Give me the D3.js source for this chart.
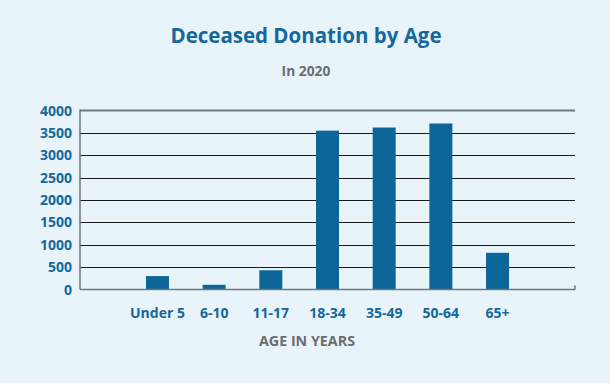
<!DOCTYPE html>
<html>
<head>
<meta charset="utf-8">
<script src="https://cdn.jsdelivr.net/npm/d3@7"></script>
<style>
  html, body { margin: 0; padding: 0; background: #e9f4fa; }
  svg { display: block; }
  text { font-family: "Open Sans", sans-serif; }
</style>
</head>
<body>
<div id="chart"></div>
<script>
const categories = ["Under 5", "6-10", "11-17", "18-34", "35-49", "50-64", "65+"];
const values = [300, 105, 430, 3550, 3620, 3710, 820];
const yTicks = [0, 500, 1000, 1500, 2000, 2500, 3000, 3500, 4000];
const title = "Deceased Donation by Age";
const subtitle = "In 2020";
const xTitle = "AGE IN YEARS";

(function () {
const W = 610, H = 383;
const mLeft = 80, mRight = 575, mTop = 110.5, mBottom = 289.5;
const blue = "#14689b", barColor = "#0d6699", gray = "#6b6e70";

const svg = d3.select("#chart").append("svg").attr("width", W).attr("height", H);
svg.append("rect").attr("width", W).attr("height", H).attr("fill", "#e9f4fa");

const x = d3.scaleBand().domain(categories).range([mLeft, mRight])
  .paddingInner(0.594).paddingOuter(1.164).align(0.5);
const y = d3.scaleLinear().domain([0, 4000]).range([mBottom, mTop]);

svg.append("text").attr("x", 306).attr("y", 43).attr("text-anchor", "middle")
  .attr("font-size", 20.5).attr("font-weight", 700).attr("fill", blue).text(title);
svg.append("text").attr("x", 306).attr("y", 76).attr("text-anchor", "middle")
  .attr("font-size", 13.8).attr("font-weight", 700).attr("fill", gray).text(subtitle);

svg.append("g").selectAll("line").data(yTicks.filter(d => d > 0 && d < 4000)).join("line")
  .attr("x1", mLeft).attr("x2", mRight)
  .attr("y1", d => Math.round(y(d)) + 0.5).attr("y2", d => Math.round(y(d)) + 0.5)
  .attr("stroke", "#1a1a1a").attr("stroke-width", 1);
svg.append("line").attr("x1", mLeft).attr("x2", mRight).attr("y1", y(4000)).attr("y2", y(4000))
  .attr("stroke", "#6e777c").attr("stroke-width", 2);

svg.append("g").selectAll("rect").data(values).join("rect")
  .attr("x", (d, i) => x(categories[i]))
  .attr("width", x.bandwidth())
  .attr("y", d => y(d))
  .attr("height", d => y(0) - y(d))
  .attr("fill", barColor);

svg.append("line").attr("x1", mLeft).attr("x2", mLeft).attr("y1", y(4000) - 1).attr("y2", y(0))
  .attr("stroke", "#6e777c").attr("stroke-width", 1.5);
svg.append("line").attr("x1", mLeft).attr("x2", mRight).attr("y1", y(0)).attr("y2", y(0))
  .attr("stroke", "#6e777c").attr("stroke-width", 1.5);
svg.append("line").attr("x1", mRight).attr("x2", mRight).attr("y1", y(0)).attr("y2", y(0) - 4)
  .attr("stroke", "#6e777c").attr("stroke-width", 1.5);

svg.append("g").selectAll("text").data(yTicks).join("text")
  .attr("x", 72).attr("y", d => y(d)).attr("dy", "0.36em").attr("text-anchor", "end")
  .attr("font-size", 14).attr("font-weight", 700).attr("fill", blue).text(d => d);

svg.append("g").selectAll("text").data(categories).join("text")
  .attr("x", d => x(d) + x.bandwidth() / 2).attr("y", 317.5).attr("text-anchor", "middle")
  .attr("font-size", 14).attr("font-weight", 700).attr("fill", blue).text(d => d);

svg.append("text").attr("x", 307).attr("y", 346).attr("text-anchor", "middle")
  .attr("font-size", 14.3).attr("font-weight", 700).attr("fill", gray).text(xTitle);
})();
</script>
</body>
</html>
